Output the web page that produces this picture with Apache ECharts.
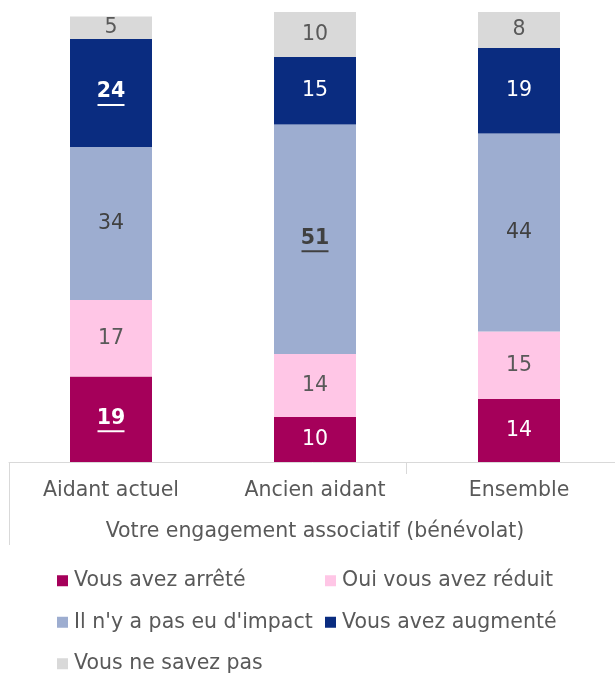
<!DOCTYPE html>
<html>
<head>
<meta charset="utf-8">
<script src="https://cdn.jsdelivr.net/npm/echarts@6/dist/echarts.min.js"></script>
<style>
  html, body { margin: 0; padding: 0; background: #fff; }
  #chart { width: 615px; height: 674px; }
</style>
</head>
<body>
<div id="chart"></div>
<script>
// Categories and stacked shares (%)
const categories = ['Aidant actuel', 'Ancien aidant', 'Ensemble'];
const seriesNames = [
  'Vous avez arrêté',
  'Oui vous avez réduit',
  "Il n'y a pas eu d'impact",
  'Vous avez augmenté',
  'Vous ne savez pas'
];
const arrete   = [19, 10, 14];
const reduit   = [17, 14, 15];
const impact   = [34, 51, 44];
const augmente = [24, 15, 19];
const nesaitpas = [5, 10, 8];
// Cells shown in bold with underline (series index -> category indexes)
const boldCells = { 0: [0], 2: [1], 3: [0] };

const values = [arrete, reduit, impact, augmente, nesaitpas];
const colors = ['#A5005A', '#FFC6E6', '#9DADD0', '#0A2C80', '#D9D9D9'];
const labelColors = ['#FFFFFF', '#595959', '#404040', '#FFFFFF', '#595959'];
const FONT = 'DejaVu Sans';
const FS = 20.5;

const series = values.map((vals, si) => ({
  name: seriesNames[si],
  type: 'bar',
  stack: 'total',
  barWidth: 82,
  itemStyle: { color: colors[si] },
  label: {
    show: true,
    position: 'inside',
    color: labelColors[si],
    fontFamily: FONT,
    fontSize: FS
  },
  data: vals.map((v, ci) => {
    const bold = (boldCells[si] || []).includes(ci);
    if (!bold) return v;
    const c = si === 2 ? '#404040' : '#FFFFFF';
    return {
      value: v,
      label: {
        formatter: '{n|{c}}\n{u|}',
        rich: {
          n: { fontFamily: FONT, fontSize: FS, fontWeight: 'bold', color: c, lineHeight: 24 },
          u: { width: 27, height: 2, backgroundColor: c, lineHeight: 2 }
        }
      }
    };
  })
}));

const chart = echarts.init(document.getElementById('chart'), null, { renderer: 'canvas' });
chart.setOption({
  animation: false,
  textStyle: { fontFamily: FONT },
  grid: { left: 9, width: 612, top: 12, bottom: 212, outerBoundsMode: 'none', containLabel: false },
  xAxis: {
    type: 'category',
    data: categories,
    axisLine: { show: true, lineStyle: { color: '#D9D9D9', width: 1 } },
    axisTick: { show: false },
    axisLabel: { color: '#595959', fontSize: FS, fontFamily: FONT, margin: 18 },
    name: 'Votre engagement associatif (bénévolat)',
    nameLocation: 'middle',
    nameGap: 59,
    nameTextStyle: { color: '#595959', fontSize: FS, fontFamily: FONT }
  },
  yAxis: { type: 'value', min: 0, max: 100, show: false },
  legend: {
    data: seriesNames,
    left: 57,
    top: 560,
    width: 560,
    padding: 0,
    orient: 'horizontal',
    itemGap: 0,
    itemWidth: 11,
    itemHeight: 11,
    icon: 'rect',
    textStyle: { color: '#595959', fontSize: FS, fontFamily: FONT, width: 251, lineHeight: 41.5, padding: [0, 0, 0, 1] }
  },
  graphic: [
    { type: 'line', shape: { x1: 9.5, y1: 462, x2: 9.5, y2: 545 }, style: { stroke: '#D9D9D9', lineWidth: 1 } },
    { type: 'line', shape: { x1: 406.5, y1: 462, x2: 406.5, y2: 474 }, style: { stroke: '#D9D9D9', lineWidth: 1 } }
  ],
  series: series
});
</script>
</body>
</html>
